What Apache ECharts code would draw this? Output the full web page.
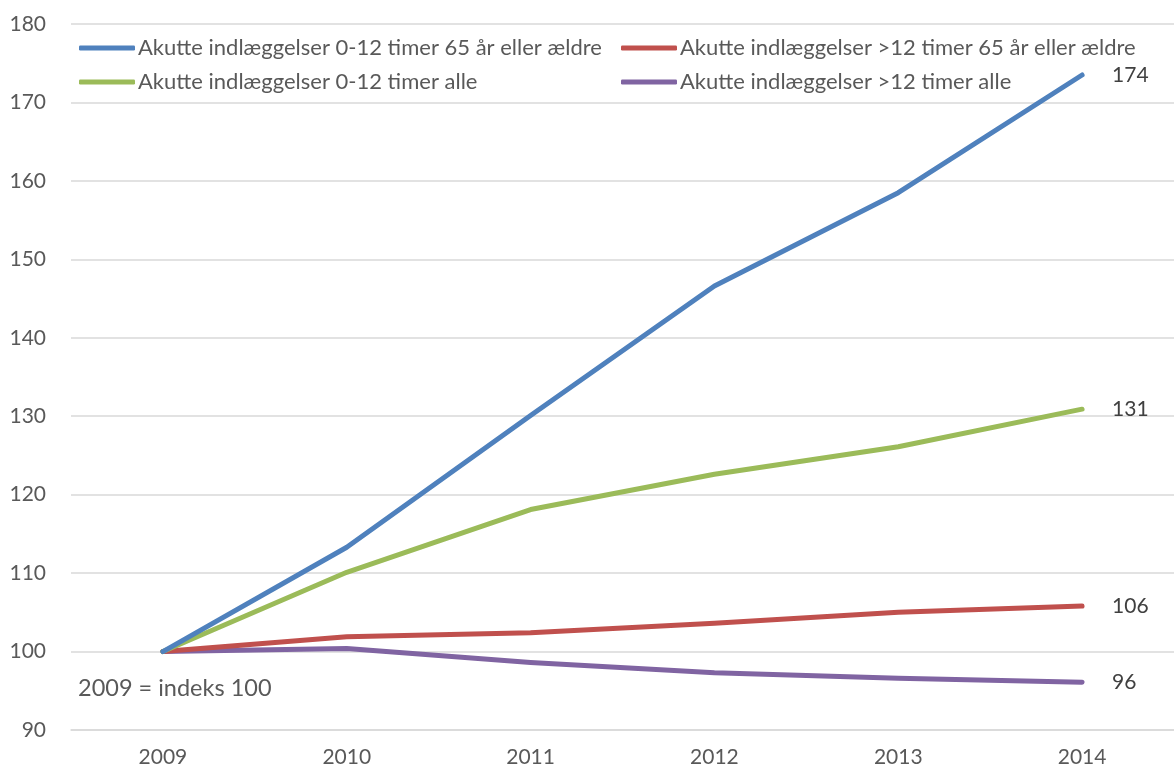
<!DOCTYPE html>
<html><head><meta charset="utf-8">
<script src="https://cdn.jsdelivr.net/npm/echarts@6/dist/echarts.min.js"></script>
<style>html,body{margin:0;padding:0;background:#fff}#c{width:1174px;height:770px}</style>
</head><body><div id="c"></div>
<script>
const categories = ['2009','2010','2011','2012','2013','2014'];
const seriesNames = [
  'Akutte indlæggelser 0-12 timer 65 år eller ældre',
  'Akutte indlæggelser >12 timer 65 år eller ældre',
  'Akutte indlæggelser 0-12 timer alle',
  'Akutte indlæggelser >12 timer alle'
];
const blue0to12Old = [100, 113.3, 130.1, 146.6, 158.5, 173.5];
const redOver12Old = [100, 101.9, 102.4, 103.6, 105.0, 105.8];
const green0to12All = [100, 110.1, 118.1, 122.6, 126.1, 130.9];
const purpleOver12All = [100, 100.4, 98.6, 97.3, 96.6, 96.1];
const yTicks = {min: 90, max: 180, interval: 10};
const note = '2009 = indeks 100';

const colors = ['#4F81BD', '#C0504D', '#9BBB59', '#8064A2'];
const font = 'Lato, "Noto Sans", sans-serif';
const dataArr = [blue0to12Old, redOver12Old, green0to12All, purpleOver12All];

const chart = echarts.init(document.getElementById('c'));
chart.setOption({
  animation: false,
  textStyle: {fontFamily: font},
  grid: {left: 71, right: 0, top: 24, bottom: 40, containLabel: false},
  legend: [
    {data: [seriesNames[0], seriesNames[2]], orient: 'vertical', left: 74, top: 32, itemWidth: 56, itemHeight: 5, itemGap: 12, icon: 'roundRect',
     textStyle: {fontSize: 22, color: '#595959', fontFamily: font, padding: [0,0,0,-2]}},
    {data: [seriesNames[1], seriesNames[3]], orient: 'vertical', left: 616, top: 32, itemWidth: 56, itemHeight: 5, itemGap: 12, icon: 'roundRect',
     textStyle: {fontSize: 22, color: '#595959', fontFamily: font, padding: [0,0,0,-2]}}
  ],
  xAxis: {
    type: 'category', data: categories, boundaryGap: true,
    axisLine: {show: true, lineStyle: {color: '#D9D9D9', width: 1.5}},
    axisTick: {show: false},
    axisLabel: {fontSize: 21, color: '#595959', margin: 17, fontFamily: font}
  },
  yAxis: {
    type: 'value', min: yTicks.min, max: yTicks.max, interval: yTicks.interval,
    axisLine: {show: false}, axisTick: {show: false},
    axisLabel: {fontSize: 21, color: '#595959', margin: 25, fontFamily: font},
    splitLine: {lineStyle: {color: '#D9D9D9', width: 1.5}}
  },
  graphic: [{type: 'text', left: 78, top: 676, style: {text: note, fontSize: 23.5, fill: '#595959', fontFamily: font}}],
  series: dataArr.map((d, i) => ({
    name: seriesNames[i], type: 'line', data: d, color: colors[i],
    symbol: 'none', lineStyle: {width: 5, cap: 'round', join: 'round'},
    z: [4,2,3,1][i],
    endLabel: {show: true, distance: 30, fontSize: 21, color: '#404040', fontFamily: font,
      formatter: p => Math.round(p.value)}
  }))
});
</script></body></html>
